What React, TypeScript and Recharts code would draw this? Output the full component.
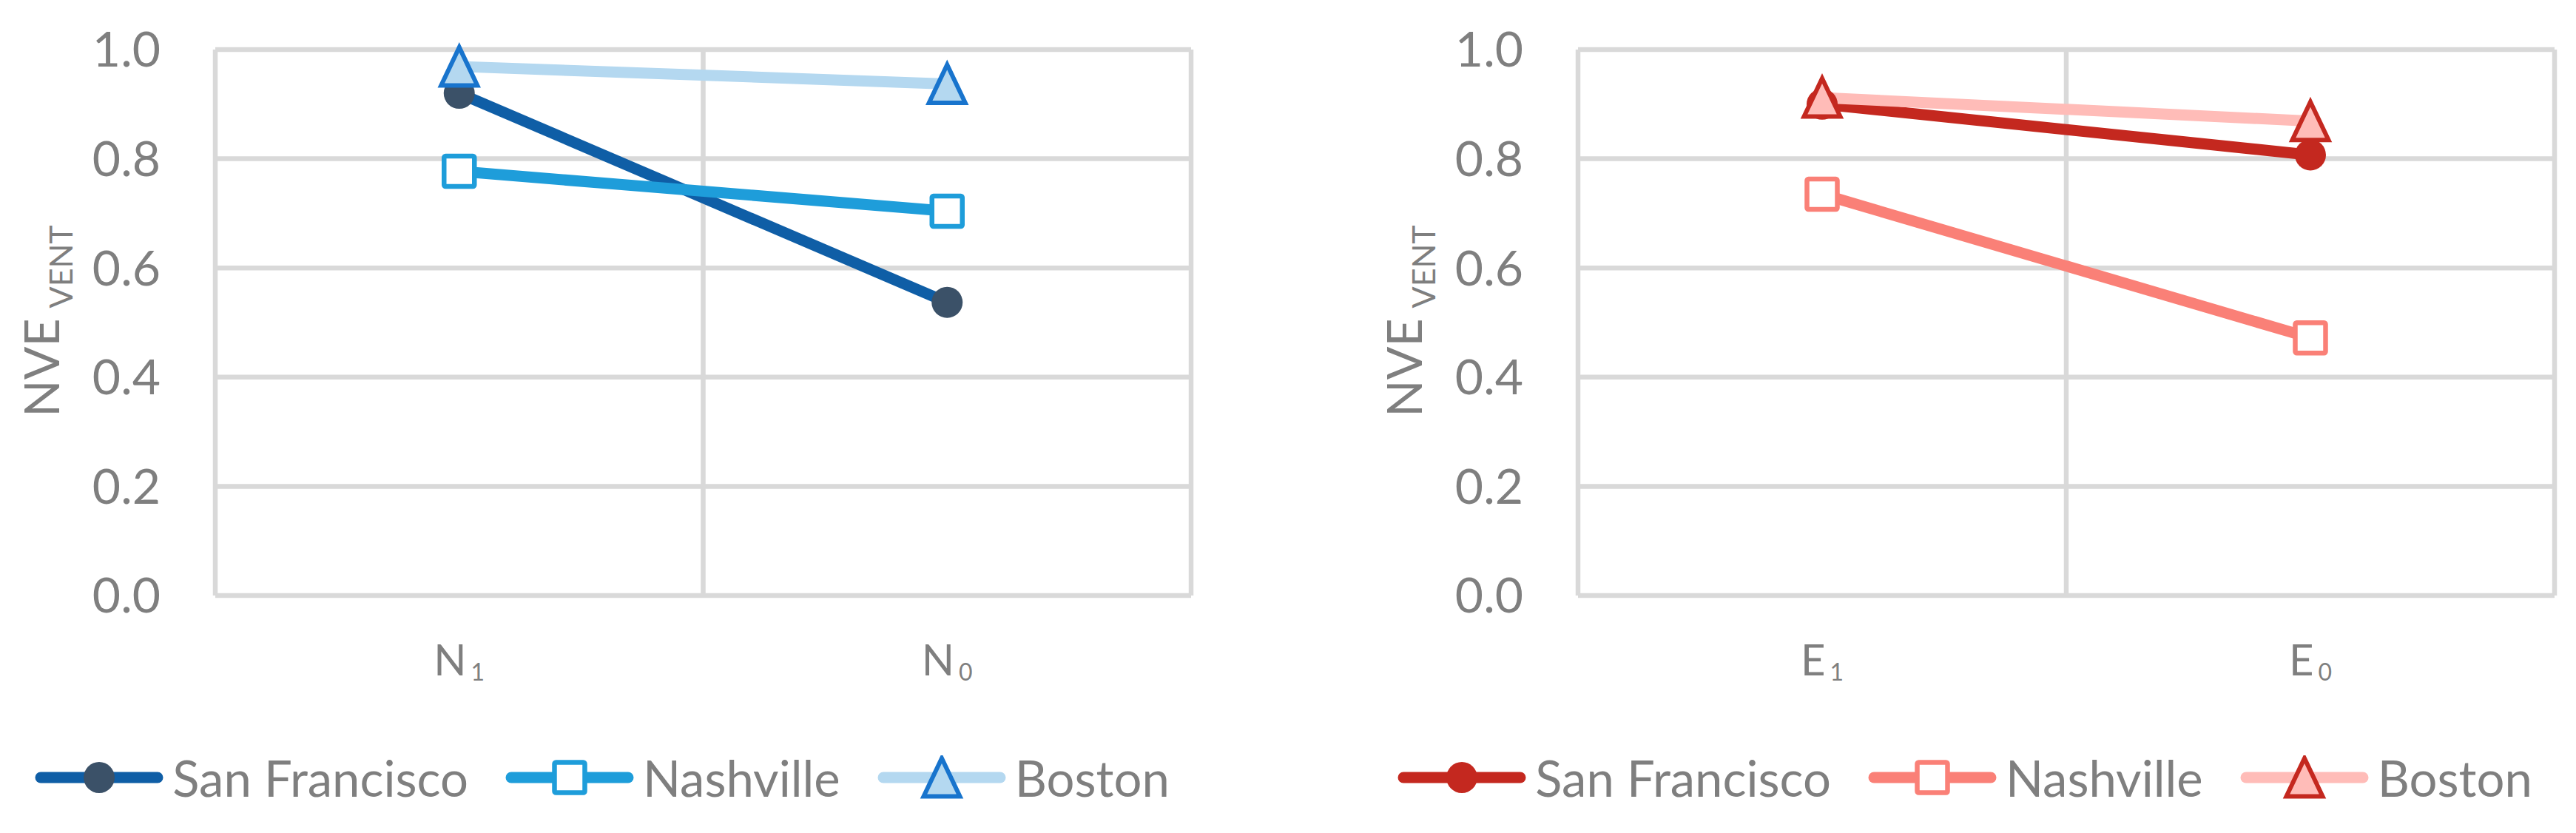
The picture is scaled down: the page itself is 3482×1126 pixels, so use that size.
import React from 'react';
import { LineChart, Line, XAxis, YAxis, CartesianGrid, Legend } from 'recharts';

// ---------- data ----------
const northCategories = ['N1', 'N0'];
const eastCategories = ['E1', 'E0'];
const seriesNames = ['San Francisco', 'Nashville', 'Boston'];
const seriesKeys = ['sf', 'nash', 'boston'];

const northSanFrancisco = [0.92, 0.537];
const northNashville = [0.777, 0.704];
const northBoston = [0.969, 0.937];

const eastSanFrancisco = [0.9, 0.807];
const eastNashville = [0.735, 0.472];
const eastBoston = [0.912, 0.869];

const yTicks = [0, 0.2, 0.4, 0.6, 0.8, 1.0];
const axisTitleMain = 'NVE';
const axisTitleSub = 'VENT';

// ---------- styles ----------
const FONT = "Lato, 'Noto Sans', sans-serif";
const TEXT = '#7f7f7f';
const GRID = '#d9d9d9';

type SeriesStyle = { line: string; fill: string; stroke: string; marker: 'circle' | 'square' | 'triangle' };

const northStyles: SeriesStyle[] = [
  { line: '#0f5ea6', fill: '#3b5168', stroke: 'none', marker: 'circle' },
  { line: '#1e9dda', fill: '#ffffff', stroke: '#1e9dda', marker: 'square' },
  { line: '#b4d8f0', fill: '#b4d8f0', stroke: '#1874cd', marker: 'triangle' },
];
const eastStyles: SeriesStyle[] = [
  { line: '#c4281f', fill: '#c4281f', stroke: 'none', marker: 'circle' },
  { line: '#fa8077', fill: '#ffffff', stroke: '#fa8077', marker: 'square' },
  { line: '#ffbcb8', fill: '#ffbcb8', stroke: '#c4281f', marker: 'triangle' },
];

function buildRows(cats: string[], sf: number[], nash: number[], boston: number[]) {
  return cats.map((c, i) => ({ cat: c, sf: sf[i], nash: nash[i], boston: boston[i] }));
}

const northRows = buildRows(northCategories, northSanFrancisco, northNashville, northBoston);
const eastRows = buildRows(eastCategories, eastSanFrancisco, eastNashville, eastBoston);

// ---------- markers ----------
function Marker({ cx, cy, s }: { cx: number; cy: number; s: SeriesStyle }) {
  if (cx == null || cy == null) return null;
  if (s.marker === 'circle') {
    return <circle cx={cx} cy={cy} r={21} fill={s.fill} />;
  }
  if (s.marker === 'square') {
    return (
      <rect x={cx - 20.5} y={cy - 20.5} width={41} height={41} rx={2}
        fill={s.fill} stroke={s.stroke} strokeWidth={6.5} />
    );
  }
  return (
    <path d={`M${cx},${cy - 26} L${cx + 24.5},${cy + 25.5} L${cx - 24.5},${cy + 25.5} Z`}
      fill={s.fill} stroke={s.stroke} strokeWidth={6} strokeLinejoin="miter" />
  );
}

// ---------- axis pieces ----------
const XTick = (props: any) => {
  const { x, y, payload } = props;
  const s = String(payload.value);
  return (
    <text x={x} y={y + 108} textAnchor="middle" fill={TEXT} fontFamily={FONT} fontSize={58}>
      {s.slice(0, 1)}
      <tspan fontSize={32} dx={6} dy={7}>{s.slice(1)}</tspan>
    </text>
  );
};

const YLabel = (props: any) => {
  const vb = props.viewBox || { x: 0, y: 0, width: 0, height: 0 };
  const x = vb.x + vb.width - 211;
  const y = vb.y + vb.height / 2 - 2;
  return (
    <text x={x} y={y} transform={`rotate(-90 ${x} ${y})`} textAnchor="middle"
      fill={TEXT} fontFamily={FONT} fontSize={66}>
      {axisTitleMain}
      <tspan fontSize={43} dx={14} dy={18}>{axisTitleSub}</tspan>
    </text>
  );
};

function LegendContent({ styles }: { styles: SeriesStyle[] }) {
  return (
    <div style={{ display: 'flex', justifyContent: 'center', alignItems: 'center', height: 60,
      fontFamily: FONT, fontSize: 67, color: TEXT, lineHeight: 1 }}>
      {seriesNames.map((name, i) => (
        <div key={name} style={{ display: 'flex', alignItems: 'center', marginLeft: i ? 50 : 0 }}>
          <svg width={174} height={60} style={{ display: 'block' }}>
            <line x1={8} x2={166} y1={30} y2={30} stroke={styles[i].line} strokeWidth={15} strokeLinecap="round" />
            <Marker cx={87} cy={30} s={styles[i]} />
          </svg>
          <span style={{ marginLeft: 12, whiteSpace: 'nowrap' }}>{name}</span>
        </div>
      ))}
    </div>
  );
}

function Panel({ rows, styles, marginLeft, marginRight, legendLeft }: any) {
  return (
    <LineChart width={1740} height={1126} data={rows}
      margin={{ top: 67, right: marginRight, left: marginLeft, bottom: 201 }}>
      <CartesianGrid stroke={GRID} strokeWidth={6.5}
        verticalCoordinatesGenerator={({ offset }: any) => [
          offset.left, offset.left + offset.width / 2, offset.left + offset.width,
        ]} />
      <XAxis dataKey="cat" type="category" scale="band" height={120}
        axisLine={false} tickLine={false} tickSize={0} tickMargin={0}
        tick={<XTick />} interval={0} />
      <YAxis type="number" domain={[0, 1]} ticks={yTicks} width={291}
        axisLine={false} tickLine={false} tickSize={0} tickMargin={74}
        tickFormatter={(v: number) => v.toFixed(1)}
        tick={{ fill: TEXT, fontSize: 66, fontFamily: FONT }}
        label={<YLabel />} />
      {seriesKeys.map((k, i) => (
        <Line key={k} type="linear" dataKey={k} name={seriesNames[i]}
          stroke={styles[i].line} strokeWidth={15} isAnimationActive={false}
          activeDot={false}
          dot={(p: any) => <Marker key={`${k}-${p.index}`} cx={p.cx} cy={p.cy} s={styles[i]} />} />
      ))}
      <Legend layout="horizontal" verticalAlign="middle" align="center"
        wrapperStyle={{ left: legendLeft, top: 1021, width: 1628, height: 60 }}
        content={() => <LegendContent styles={styles} />} />
    </LineChart>
  );
}

export default function App() {
  return (
    <div style={{ position: 'absolute', left: 0, top: 0, width: 3482, height: 1126, background: '#fff' }}>
      <div style={{ position: 'absolute', left: 0, top: 0 }}>
        <Panel rows={northRows} styles={northStyles} marginLeft={0} marginRight={130} legendLeft={0} />
      </div>
      <div style={{ position: 'absolute', left: 1742, top: 0 }}>
        <Panel rows={eastRows} styles={eastStyles} marginLeft={100} marginRight={29} legendLeft={100} />
      </div>
    </div>
  );
}
